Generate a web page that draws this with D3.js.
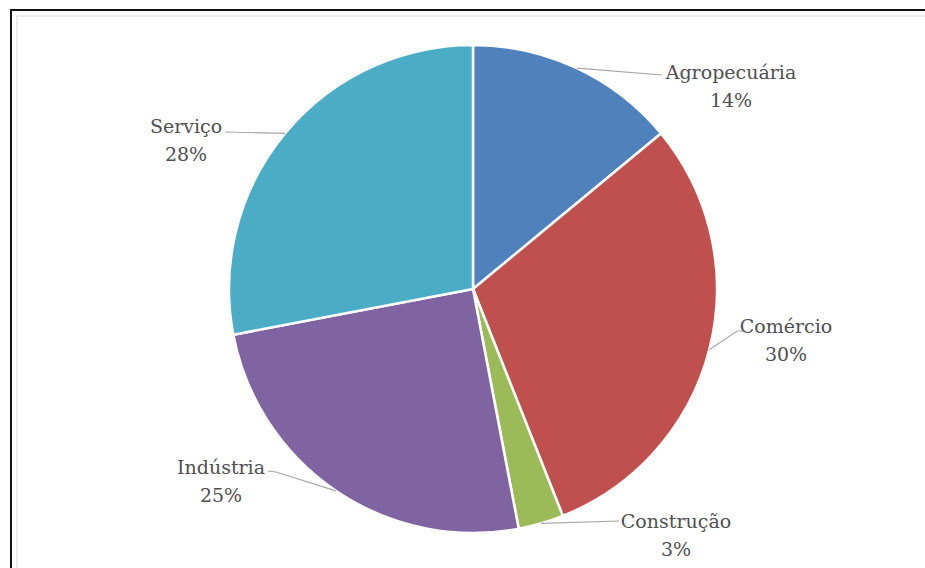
<!DOCTYPE html>
<html>
<head>
<meta charset="utf-8">
<script src="https://cdn.jsdelivr.net/npm/d3@7"></script>
<style>
  html, body { margin: 0; padding: 0; background: #fff; }
  svg { display: block; }
</style>
</head>
<body>
<svg id="chart" width="925" height="568"></svg>
<script>
// ---- data ----
const categories = ["Agropecuária", "Comércio", "Construção", "Indústria", "Serviço"];
const values = [14, 30, 3, 25, 28];
const percentLabels = ["14%", "30%", "3%", "25%", "28%"];
const colors = ["#4F81BD", "#C0504D", "#9BBB59", "#8064A2", "#4BACC6"];

// ---- layout (label text centre x, first baseline y) and leader bends ----
const labelPos = [[731, 79], [786, 333], [676, 528], [221, 474], [186, 133]];
const leaderEnds = [
  [[662, 75]],
  [[737, 331], [747, 331]],
  [[619, 521]],
  [[276, 472], [268, 471]],
  [[225, 132]]
];

const svg = d3.select("#chart");
const W = 925, H = 568;

// frame
svg.append("rect").attr("x", 0).attr("y", 0).attr("width", W).attr("height", H).attr("fill", "#fff");
svg.append("rect").attr("x", 17).attr("y", 16).attr("width", W + 20).attr("height", H + 20)
  .attr("fill", "none").attr("stroke", "#e6e6e6").attr("stroke-width", 1.5);
svg.append("rect").attr("x", 11).attr("y", 10).attr("width", W + 20).attr("height", H + 20)
  .attr("fill", "none").attr("stroke", "#111").attr("stroke-width", 2);

const cx = 473, cy = 289, r = 244;
const g = svg.append("g").attr("transform", `translate(${cx},${cy})`);

const pie = d3.pie().sort(null).value(d => d.value);
const data = categories.map((c, i) => ({ name: c, value: values[i], pct: percentLabels[i], color: colors[i] }));
const arcs = pie(data);
const arc = d3.arc().innerRadius(0).outerRadius(r);

g.selectAll("path.slice").data(arcs).enter().append("path")
  .attr("class", "slice")
  .attr("d", arc)
  .attr("fill", d => d.data.color)
  .attr("stroke", "#fff")
  .attr("stroke-width", 2.5)
  .attr("stroke-linejoin", "round");

// leader lines
const line = d3.line();
arcs.forEach((a, i) => {
  const mid = (a.startAngle + a.endAngle) / 2;
  const sx = cx + r * Math.sin(mid), sy = cy - r * Math.cos(mid);
  const pts = [[sx, sy]].concat(leaderEnds[i]);
  svg.append("path").attr("d", line(pts)).attr("fill", "none")
    .attr("stroke", "#a6a6a6").attr("stroke-width", 1.2);
});

// labels
arcs.forEach((a, i) => {
  const t = svg.append("text")
    .attr("x", labelPos[i][0]).attr("y", labelPos[i][1])
    .attr("text-anchor", "middle")
    .attr("font-family", "'DejaVu Serif', serif")
    .attr("font-size", 19)
    .attr("fill", "#4f4f4f");
  t.append("tspan").attr("x", labelPos[i][0]).text(a.data.name);
  t.append("tspan").attr("x", labelPos[i][0]).attr("dy", 28).text(a.data.pct);
});
</script>
</body>
</html>
